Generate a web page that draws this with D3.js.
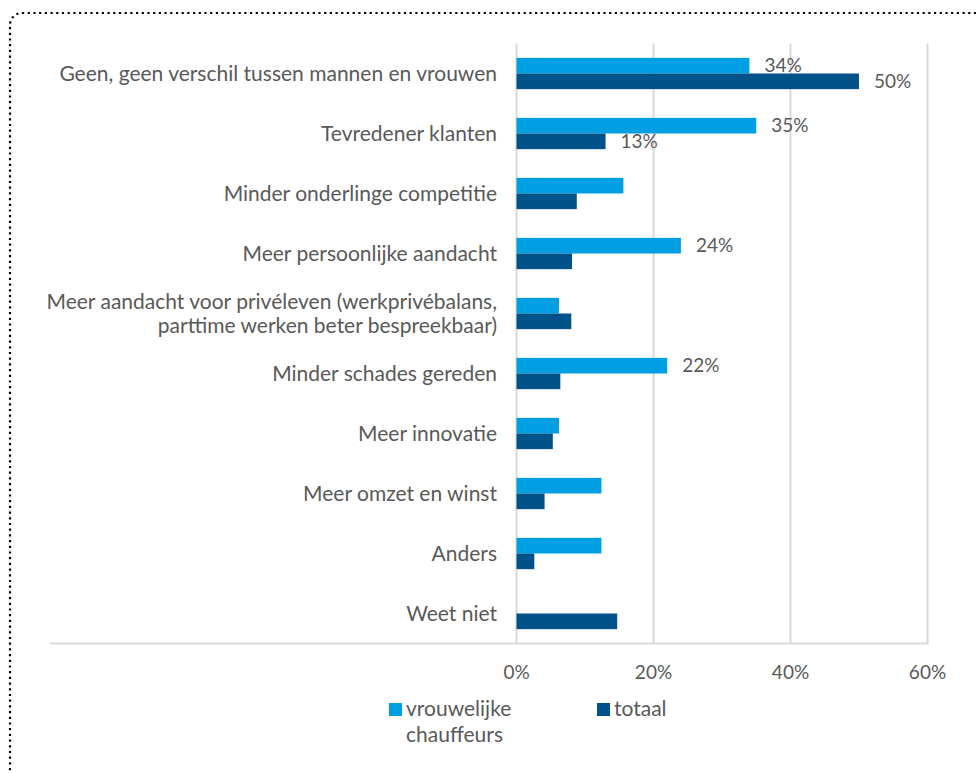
<!DOCTYPE html>
<html>
<head>
<meta charset="utf-8">
<script src="https://cdn.jsdelivr.net/npm/d3@7"></script>
<style>
  body { margin: 0; background: #fff; }
  svg text { font-family: Lato, "Open Sans", sans-serif; fill: #595959; }
</style>
</head>
<body>
<div id="chart"></div>
<script>
/* DATA */
const categories = [
  ["Geen, geen verschil tussen mannen en vrouwen"],
  ["Tevredener klanten"],
  ["Minder onderlinge competitie"],
  ["Meer persoonlijke aandacht"],
  ["Meer aandacht voor privéleven (werkprivébalans,", "parttime werken beter bespreekbaar)"],
  ["Minder schades gereden"],
  ["Meer innovatie"],
  ["Meer omzet en winst"],
  ["Anders"],
  ["Weet niet"]
];
const vrouwelijk = [34, 35, 15.6, 24, 6.2, 22, 6.2, 12.4, 12.4, 0];
const totaal     = [50, 13, 8.8, 8.1, 8, 6.4, 5.3, 4.1, 2.6, 14.7];
// only some bars carry a data label in the original
const labelsVrouwelijk = ["34%", "35%", null, "24%", null, "22%", null, null, null, null];
const labelsTotaal     = ["50%", "13%", null, null, null, null, null, null, null, null];
const ticks = [0, 20, 40, 60];
const seriesNames = ["vrouwelijke|chauffeurs", "totaal"];
const colors = ["#009fe3", "#005289"];

/* SETUP */
const W = 976, H = 773;
const svg = d3.select("#chart").append("svg")
  .attr("width", W).attr("height", H);

// dotted frame
svg.append("rect")
  .attr("x", 10).attr("y", 13)
  .attr("width", W + 20).attr("height", H + 20)
  .attr("rx", 12)
  .attr("fill", "none")
  .attr("stroke", "#000")
  .attr("stroke-width", 2.2)
  .attr("stroke-dasharray", "2.2,3.5");

const x = d3.scaleLinear().domain([0, 60]).range([516.5, 927.5]);
const y = d3.scaleBand()
  .domain(d3.range(categories.length))
  .range([43.5, 643.5])
  .paddingInner(0.478)
  .paddingOuter(0.239);
const bh = y.bandwidth() / 2;

// gridlines
svg.append("g").selectAll("line")
  .data(ticks)
  .enter().append("line")
    .attr("x1", d => x(d)).attr("x2", d => x(d))
    .attr("y1", 43.5).attr("y2", 643.5)
    .attr("stroke", "#d9d9d9").attr("stroke-width", 2);

svg.append("line")
  .attr("x1", 50).attr("x2", x(60) + 1)
  .attr("y1", 643.5).attr("y2", 643.5)
  .attr("stroke", "#d9d9d9").attr("stroke-width", 2);

// bars
const series = [vrouwelijk, totaal];
const labels = [labelsVrouwelijk, labelsTotaal];
series.forEach((vals, s) => {
  svg.append("g").attr("fill", colors[s])
    .selectAll("rect")
    .data(vals)
    .enter().append("rect")
      .attr("x", x(0))
      .attr("y", (d, i) => y(i) + s * bh)
      .attr("width", d => x(d) - x(0))
      .attr("height", bh);

  svg.append("g")
    .selectAll("text")
    .data(vals.map((v, i) => ({v: v, i: i, t: labels[s][i]})).filter(d => d.t))
    .enter().append("text")
      .attr("x", d => x(d.v) + 15)
      .attr("y", d => y(d.i) + s * bh + bh / 2)
      .attr("dy", "0.35em")
      .attr("font-size", 19)
      .text(d => d.t);
});

// category labels
const cat = svg.append("g").selectAll("text")
  .data(categories)
  .enter().append("text")
    .attr("text-anchor", "end")
    .attr("font-size", 21)
    .attr("x", 497)
    .attr("y", (d, i) => y(i) + y.bandwidth() / 2 - (d.length - 1) * 12);
cat.selectAll("tspan")
  .data(d => d)
  .enter().append("tspan")
    .attr("x", 497)
    .attr("dy", (d, i) => i === 0 ? "0.35em" : 24)
    .text(d => d);

// x axis tick labels
svg.append("g").selectAll("text")
  .data(ticks)
  .enter().append("text")
    .attr("text-anchor", "middle")
    .attr("font-size", 19)
    .attr("x", d => x(d))
    .attr("y", 672)
    .attr("dy", "0.35em")
    .text(d => d + "%");

// legend
const legX = [389, 597];
seriesNames.forEach((name, s) => {
  const g = svg.append("g").attr("transform", "translate(" + legX[s] + ",703)");
  g.append("rect").attr("width", 13).attr("height", 13).attr("fill", colors[s]);
  const t = g.append("text").attr("font-size", 21).attr("x", 17).attr("y", 6);
  name.split("|").forEach((line, i) => {
    t.append("tspan").attr("x", 17).attr("dy", i === 0 ? "0.35em" : 26).text(line);
  });
});
</script>
</body>
</html>
